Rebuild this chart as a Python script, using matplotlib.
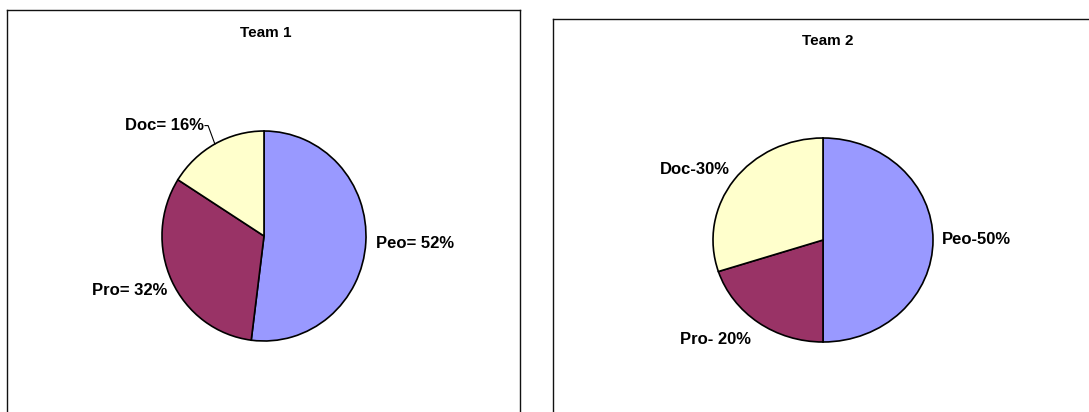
import numpy as np
import matplotlib.pyplot as plt

plt.rcParams['font.family'] = ['Liberation Sans', 'DejaVu Sans']

# data
labels = ['Peo', 'Pro', 'Doc']
team1 = [52, 32, 16]
team2 = [50, 20, 30]
team1_text = ['Peo= 52%', 'Pro= 32%', 'Doc= 16%']
team2_text = ['Peo-50%', 'Pro- 20%', 'Doc-30%']
colors = ['#9999FF', '#993366', '#FFFFCC']

W, H = 1089, 412
fig = plt.figure(figsize=(W / 100, H / 100), dpi=100)


def px(x0, y0, x1, y1):
    # pixel box (top-left origin) -> figure fraction
    return [x0 / W, 1 - y1 / H, (x1 - x0) / W, (y1 - y0) / H]


# outer chart frames (bottom runs off the picture)
for box in [(7, 10, 520, 440), (553, 19, 1110, 440)]:
    fr = fig.add_axes(px(*box))
    fr.set_xticks([])
    fr.set_yticks([])
    for s in fr.spines.values():
        s.set_linewidth(1.0)
        s.set_color('#111111')

fig.text(266 / W, 1 - 33 / H, 'Team 1', ha='center', va='center',
         fontsize=11, fontweight='bold')
fig.text(828 / W, 1 - 41 / H, 'Team 2', ha='center', va='center',
         fontsize=11, fontweight='bold')


def draw_pie(box, vals, texts, dist, has, vas, leader):
    ax = fig.add_axes(px(*box))
    wedges, _ = ax.pie(vals, colors=colors, startangle=90, counterclock=False,
                       radius=1.0, wedgeprops=dict(edgecolor='black', linewidth=1.2))
    ax.set_aspect('auto')
    ax.set_xlim(-1, 1)
    ax.set_ylim(-1, 1)
    ax.axis('off')
    for i, w in enumerate(wedges):
        ang = np.deg2rad((w.theta1 + w.theta2) / 2)
        c, s = np.cos(ang), np.sin(ang)
        tx, ty = c * dist[i], s * dist[i]
        if leader[i]:
            # Excel-style leader: up from the slice, short hook to the label
            ax.plot([c, tx + 0.03, tx], [s, ty, ty], color='black', lw=0.8,
                    clip_on=False)
            tx -= 0.01
        ax.text(tx, ty, texts[i], ha=has[i], va=vas[i], fontsize=12,
                fontweight='bold', clip_on=False)


draw_pie((162, 131, 366, 341), team1, team1_text,
         [1.1, 1.05, 1.2], ['left', 'right', 'right'],
         ['center', 'top', 'center'], [False, False, True])
draw_pie((713, 138, 933, 342), team2, team2_text,
         [1.08, 1.12, 1.05], ['left', 'right', 'right'],
         ['center', 'top', 'bottom'], [False, False, False])

fig.savefig('out.png', dpi=100)
